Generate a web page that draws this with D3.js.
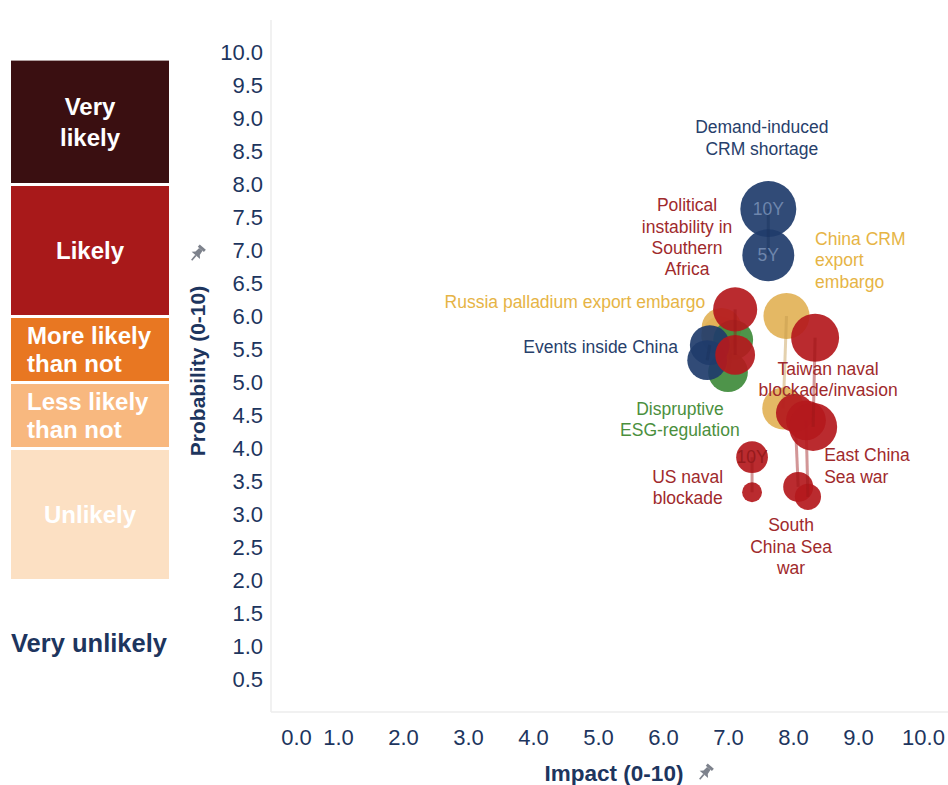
<!DOCTYPE html>
<html>
<head>
<meta charset="utf-8">
<script src="https://cdn.jsdelivr.net/npm/d3@7"></script>
<style>
  body { margin: 0; background: #fff; }
  svg { display: block; font-family: "Liberation Sans", Arial, Helvetica, sans-serif; }
</style>
</head>
<body>
<div id="chart"></div>
<script>
// risks, in drawing order (back to front)
const risks = ["Russia palladium export embargo", "Dispruptive ESG-regulation", "Events inside China",
  "Political instability in Southern Africa", "Demand-induced CRM shortage", "China CRM export embargo",
  "South China Sea war", "East China Sea war", "Taiwan naval blockade/invasion", "US naval blockade"];
const riskGroup = ["trade", "esg", "china", "geo", "china", "trade", "geo", "geo", "geo", "geo"];

// 10 year horizon (upper bubble) and 5 year horizon (lower bubble)
const impact10Y = [6.90, 7.08, 6.72, 7.11, 7.62, 7.90, 8.03, 8.20, 8.34, 7.37];
const prob10Y   = [5.82, 5.64, 5.56, 6.10, 7.62, 6.00, 4.53, 4.42, 5.67, 3.86];
const size10Y   = [4.4, 4.4, 4.4, 5.4, 8.7, 5.9, 4.0, 4.4, 6.4, 2.8];
const impact5Y  = [6.88, 7.00, 6.68, 7.11, 7.62, 7.85, 8.08, 8.23, 8.31, 7.37];
const prob5Y    = [5.70, 5.15, 5.33, 5.41, 6.92, 4.60, 3.41, 3.26, 4.32, 3.33];
const size5Y    = [4.0, 4.4, 4.4, 4.4, 7.5, 4.9, 2.5, 1.9, 6.4, 1.1];

// axis ticks
const xTicks = [0, 1, 2, 3, 4, 5, 6, 7, 8, 9, 10];
const yTicks = [0.5, 1, 1.5, 2, 2.5, 3, 3.5, 4, 4.5, 5, 5.5, 6, 6.5, 7, 7.5, 8, 8.5, 9, 9.5, 10];

// probability bands on the left
const bandNames = [["Very", "likely"], ["Likely"], ["More likely", "than not"], ["Less likely", "than not"], ["Unlikely"]];
const bandLow  = [8, 6, 5, 4, 2];
const bandHigh = [9.9, 8, 6, 5, 4];

const groupFill = {trade: "#e2b257", esg: "#3f8b3b", china: "#1f3c6b", geo: "#b4191d"};
const groupText = {trade: "#e6b445", esg: "#4b8f3d", china: "#27406b", geo: "#9f2a2c"};
const bandFill = ["#3a0f11", "#a8191a", "#e87722", "#f8b87f", "#fce0c3"];
const navy = "#1d355e";

const svg = d3.select("#chart").append("svg")
  .attr("width", 948)
  .attr("height", 785);

let x = d3.scaleLinear().domain([0, 1, 10]).range([296, 338, 923]);
let y = d3.scaleLinear().domain([0, 10]).range([712, 52]);
let r = d3.scaleSqrt().domain([0, 10]).range([0, 30]);

// plot frame
svg.append("line").attr("x1", 271).attr("x2", 271).attr("y1", 20).attr("y2", 712)
  .attr("stroke", "#ececec").attr("stroke-width", 1.5);
svg.append("line").attr("x1", 271).attr("x2", 948).attr("y1", 712).attr("y2", 712)
  .attr("stroke", "#ececec").attr("stroke-width", 1.5);

// axes
let yAxis = d3.axisLeft(y).tickValues(yTicks).tickFormat(d3.format(".1f")).tickSize(0).tickPadding(8);
let gy = svg.append("g").attr("transform", "translate(271,0)").call(yAxis);
let xAxis = d3.axisBottom(x).tickValues(xTicks).tickFormat(d3.format(".1f")).tickSize(0).tickPadding(17);
let gx = svg.append("g").attr("transform", "translate(0,712)").call(xAxis);
[gx, gy].forEach(g => {
  g.select(".domain").remove();
  g.selectAll("text").attr("fill", navy).style("font-size", "22px")
    .style("font-family", "'Liberation Sans', Arial, sans-serif");
});

// pin icon next to axis titles
function pin(cx, cy) {
  let p = svg.append("g").attr("transform", "translate(" + cx + "," + cy + ") rotate(40)")
    .attr("fill", "#7d828c");
  p.append("rect").attr("x", -4).attr("y", -9).attr("width", 8).attr("height", 3);
  p.append("path").attr("d", "M-2.2,-6 L2.2,-6 L2.8,-1 L5.5,1.8 L-5.5,1.8 L-2.8,-1 Z");
  p.append("rect").attr("x", -0.8).attr("y", 1.8).attr("width", 1.6).attr("height", 6.5);
}

svg.append("text")
  .attr("transform", "translate(205,371) rotate(-90)")
  .attr("text-anchor", "middle")
  .attr("fill", navy).style("font-size", "21px").style("font-weight", "bold")
  .text("Probability (0-10)");
pin(197, 254);

svg.append("text")
  .attr("x", 614).attr("y", 781)
  .attr("text-anchor", "middle")
  .attr("fill", navy).style("font-size", "22.5px").style("font-weight", "bold")
  .text("Impact (0-10)");
pin(705, 773);

// probability bands
let bands = svg.append("g");
bandNames.forEach((lines, i) => {
  let top = y(bandHigh[i]) + 2, bot = y(bandLow[i]) - 1;
  bands.append("rect")
    .attr("x", 11).attr("y", top).attr("width", 158).attr("height", bot - top)
    .attr("fill", bandFill[i]);
  let left = (i === 2 || i === 3);
  let lh = left ? 28 : 31;
  let mid = (top + bot) / 2 - (lines.length - 1) * lh / 2;
  lines.forEach((t, j) => {
    bands.append("text")
      .attr("x", left ? 27 : 90).attr("y", mid + j * lh).attr("dy", "0.35em")
      .attr("text-anchor", left ? "start" : "middle")
      .attr("fill", "#fff").style("font-size", "24px").style("font-weight", "bold")
      .text(t);
  });
});
svg.append("text")
  .attr("x", 11).attr("y", 643).attr("dy", "0.35em")
  .attr("fill", navy).style("font-size", "25.5px").style("font-weight", "bold")
  .text("Very unlikely");

// bubbles: one group per risk, 10Y then 5Y, with a thin connector
let bubbles = svg.append("g");
risks.forEach((name, i) => {
  let g = bubbles.append("g");
  let c = groupFill[riskGroup[i]];
  let pts = [[impact10Y[i], prob10Y[i], size10Y[i]], [impact5Y[i], prob5Y[i], size5Y[i]]];
  g.selectAll("circle.b").data(pts).enter().append("circle")
    .attr("class", "b")
    .attr("cx", d => x(d[0])).attr("cy", d => y(d[1])).attr("r", d => r(d[2]))
    .attr("fill", c).attr("fill-opacity", 0.92);
  g.append("line")
    .attr("x1", x(pts[0][0])).attr("y1", y(pts[0][1]))
    .attr("x2", x(pts[1][0])).attr("y2", y(pts[1][1]))
    .attr("stroke", d3.color(c).darker(0.4)).attr("stroke-opacity", 0.45).attr("stroke-width", 3);
});

// horizon tags on bubbles
const horizonTags = [["10Y", 4, "10"], ["5Y", 4, "5"], ["10Y", 9, "10"]];
horizonTags.forEach(([t, i, h]) => {
  let px = h === "10" ? impact10Y[i] : impact5Y[i];
  let py = h === "10" ? prob10Y[i] : prob5Y[i];
  svg.append("text")
    .attr("x", x(px)).attr("y", y(py)).attr("dy", "0.35em")
    .attr("text-anchor", "middle")
    .attr("fill", riskGroup[i] === "china" ? "#6e86ad" : "#951a1c")
    .style("font-size", "17.5px")
    .text(t);
});

// risk labels, anchored in data coordinates
const labelLines = [
  ["Russia palladium export embargo"], ["Dispruptive", "ESG-regulation"], ["Events inside China"],
  ["Political", "instability in", "Southern", "Africa"], ["Demand-induced", "CRM shortage"],
  ["China CRM", "export", "embargo"], ["South", "China Sea", "war"], ["East China", "Sea war"],
  ["Taiwan naval", "blockade/invasion"], ["US naval", "blockade"]];
const labelAt = [[6.65, 6.21, "end"], [6.26, 4.59, "middle"], [6.23, 5.53, "end"],
  [6.37, 7.68, "middle"], [7.52, 8.86, "middle"], [8.34, 7.17, "start"],
  [7.97, 2.83, "middle"], [8.48, 3.89, "start"], [8.54, 5.2, "middle"], [6.38, 3.56, "middle"]];

labelLines.forEach((lines, i) => {
  let [lx, ly, anchor] = labelAt[i];
  lines.forEach((t, j) => {
    svg.append("text")
      .attr("x", x(lx)).attr("y", y(ly) + j * 21.3).attr("dy", "0.35em")
      .attr("text-anchor", anchor)
      .attr("fill", groupText[riskGroup[i]])
      .style("font-size", "17.5px")
      .text(t);
  });
});
</script>
</body>
</html>
